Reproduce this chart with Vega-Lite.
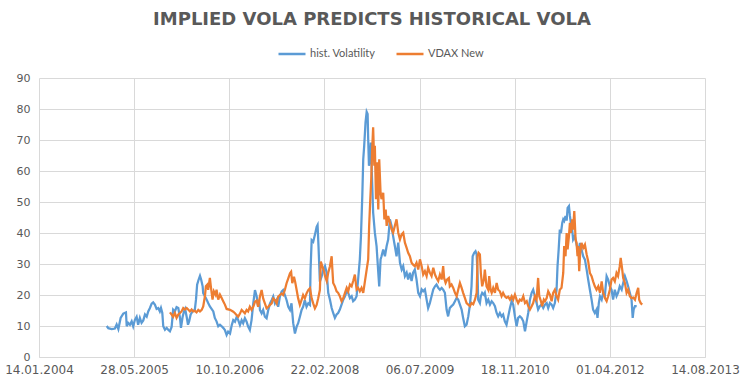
{
"$schema": "https://vega.github.io/schema/vega-lite/v6.json",
"width": 666, "height": 279,
"autosize": {"type": "none"},
"padding": {"left": 39, "top": 78, "right": 38, "bottom": 30},
"background": "white",
"title": {"text": "IMPLIED VOLA PREDICTS HISTORICAL VOLA", "font": "DejaVu Sans", "fontSize": 18, "fontWeight": "bold", "color": "#595959", "anchor": "middle", "offset": 10},
"data": {"values": [
{"d":"2005-01-04","s":"hist. Volatility","v":10},{"d":"2005-01-12","s":"hist. Volatility","v":9.3},{"d":"2005-01-30","s":"hist. Volatility","v":9},{"d":"2005-02-16","s":"hist. Volatility","v":9.2},{"d":"2005-02-25","s":"hist. Volatility","v":10.5},{"d":"2005-03-06","s":"hist. Volatility","v":9},{"d":"2005-03-18","s":"hist. Volatility","v":12.6},{"d":"2005-04-01","s":"hist. Volatility","v":14},{"d":"2005-04-15","s":"hist. Volatility","v":14.4},{"d":"2005-04-19","s":"hist. Volatility","v":9.9},{"d":"2005-04-27","s":"hist. Volatility","v":11},{"d":"2005-05-06","s":"hist. Volatility","v":10.4},{"d":"2005-05-15","s":"hist. Volatility","v":11.5},{"d":"2005-05-23","s":"hist. Volatility","v":9.9},{"d":"2005-06-01","s":"hist. Volatility","v":12},{"d":"2005-06-10","s":"hist. Volatility","v":13},{"d":"2005-06-18","s":"hist. Volatility","v":10.4},{"d":"2005-06-27","s":"hist. Volatility","v":12.6},{"d":"2005-07-06","s":"hist. Volatility","v":11},{"d":"2005-07-15","s":"hist. Volatility","v":11.8},{"d":"2005-07-24","s":"hist. Volatility","v":13.7},{"d":"2005-08-02","s":"hist. Volatility","v":13},{"d":"2005-08-10","s":"hist. Volatility","v":14.7},{"d":"2005-08-19","s":"hist. Volatility","v":15.8},{"d":"2005-08-28","s":"hist. Volatility","v":17.2},{"d":"2005-09-05","s":"hist. Volatility","v":17.6},{"d":"2005-09-14","s":"hist. Volatility","v":16.9},{"d":"2005-09-23","s":"hist. Volatility","v":15.5},{"d":"2005-10-02","s":"hist. Volatility","v":15.8},{"d":"2005-10-10","s":"hist. Volatility","v":14.7},{"d":"2005-10-16","s":"hist. Volatility","v":15.8},{"d":"2005-10-23","s":"hist. Volatility","v":14.2},{"d":"2005-10-28","s":"hist. Volatility","v":9.9},{"d":"2005-11-06","s":"hist. Volatility","v":8.8},{"d":"2005-11-15","s":"hist. Volatility","v":9.4},{"d":"2005-11-23","s":"hist. Volatility","v":8.8},{"d":"2005-12-02","s":"hist. Volatility","v":8.3},{"d":"2005-12-11","s":"hist. Volatility","v":9.7},{"d":"2005-12-19","s":"hist. Volatility","v":15.3},{"d":"2005-12-28","s":"hist. Volatility","v":14.7},{"d":"2006-01-06","s":"hist. Volatility","v":16.1},{"d":"2006-01-15","s":"hist. Volatility","v":15.8},{"d":"2006-01-24","s":"hist. Volatility","v":12.6},{"d":"2006-01-29","s":"hist. Volatility","v":9.4},{"d":"2006-02-07","s":"hist. Volatility","v":13},{"d":"2006-02-14","s":"hist. Volatility","v":14.7},{"d":"2006-02-20","s":"hist. Volatility","v":15.5},{"d":"2006-02-28","s":"hist. Volatility","v":13},{"d":"2006-03-07","s":"hist. Volatility","v":10.4},{"d":"2006-03-13","s":"hist. Volatility","v":11.5},{"d":"2006-03-21","s":"hist. Volatility","v":13.7},{"d":"2006-03-31","s":"hist. Volatility","v":14.7},{"d":"2006-04-12","s":"hist. Volatility","v":15.3},{"d":"2006-04-18","s":"hist. Volatility","v":18.5},{"d":"2006-04-24","s":"hist. Volatility","v":23.3},{"d":"2006-05-02","s":"hist. Volatility","v":25},{"d":"2006-05-09","s":"hist. Volatility","v":26.2},{"d":"2006-05-15","s":"hist. Volatility","v":25},{"d":"2006-05-23","s":"hist. Volatility","v":22.8},{"d":"2006-05-26","s":"hist. Volatility","v":20.6},{"d":"2006-06-04","s":"hist. Volatility","v":19.6},{"d":"2006-06-13","s":"hist. Volatility","v":18.5},{"d":"2006-06-21","s":"hist. Volatility","v":17.4},{"d":"2006-06-30","s":"hist. Volatility","v":16.3},{"d":"2006-07-18","s":"hist. Volatility","v":14.7},{"d":"2006-07-26","s":"hist. Volatility","v":12.6},{"d":"2006-08-04","s":"hist. Volatility","v":11.5},{"d":"2006-08-13","s":"hist. Volatility","v":9.9},{"d":"2006-08-22","s":"hist. Volatility","v":10.4},{"d":"2006-08-31","s":"hist. Volatility","v":9.9},{"d":"2006-09-08","s":"hist. Volatility","v":9.4},{"d":"2006-09-17","s":"hist. Volatility","v":8.7},{"d":"2006-09-26","s":"hist. Volatility","v":7.1},{"d":"2006-10-04","s":"hist. Volatility","v":8.2},{"d":"2006-10-14","s":"hist. Volatility","v":7.6},{"d":"2006-10-23","s":"hist. Volatility","v":10.3},{"d":"2006-10-31","s":"hist. Volatility","v":11.9},{"d":"2006-11-09","s":"hist. Volatility","v":11.4},{"d":"2006-11-18","s":"hist. Volatility","v":13},{"d":"2006-11-26","s":"hist. Volatility","v":11.9},{"d":"2006-12-05","s":"hist. Volatility","v":10.3},{"d":"2006-12-14","s":"hist. Volatility","v":11.9},{"d":"2006-12-22","s":"hist. Volatility","v":10.9},{"d":"2006-12-31","s":"hist. Volatility","v":12.5},{"d":"2007-01-09","s":"hist. Volatility","v":11.4},{"d":"2007-01-17","s":"hist. Volatility","v":9.8},{"d":"2007-01-26","s":"hist. Volatility","v":8.7},{"d":"2007-02-04","s":"hist. Volatility","v":11.9},{"d":"2007-02-13","s":"hist. Volatility","v":17.3},{"d":"2007-02-22","s":"hist. Volatility","v":21.6},{"d":"2007-03-03","s":"hist. Volatility","v":19.5},{"d":"2007-03-08","s":"hist. Volatility","v":17.3},{"d":"2007-03-16","s":"hist. Volatility","v":18.4},{"d":"2007-03-20","s":"hist. Volatility","v":15.2},{"d":"2007-03-29","s":"hist. Volatility","v":14.1},{"d":"2007-04-06","s":"hist. Volatility","v":15.2},{"d":"2007-04-15","s":"hist. Volatility","v":13},{"d":"2007-04-24","s":"hist. Volatility","v":12.5},{"d":"2007-05-03","s":"hist. Volatility","v":15.2},{"d":"2007-05-12","s":"hist. Volatility","v":17.3},{"d":"2007-05-21","s":"hist. Volatility","v":18.4},{"d":"2007-05-29","s":"hist. Volatility","v":19.5},{"d":"2007-06-07","s":"hist. Volatility","v":17.3},{"d":"2007-06-16","s":"hist. Volatility","v":18.4},{"d":"2007-06-24","s":"hist. Volatility","v":16.2},{"d":"2007-07-03","s":"hist. Volatility","v":19.5},{"d":"2007-07-12","s":"hist. Volatility","v":21.1},{"d":"2007-07-20","s":"hist. Volatility","v":21.6},{"d":"2007-07-29","s":"hist. Volatility","v":20},{"d":"2007-08-07","s":"hist. Volatility","v":18.4},{"d":"2007-08-16","s":"hist. Volatility","v":16.2},{"d":"2007-08-25","s":"hist. Volatility","v":15.2},{"d":"2007-09-02","s":"hist. Volatility","v":17.3},{"d":"2007-09-11","s":"hist. Volatility","v":10.9},{"d":"2007-09-20","s":"hist. Volatility","v":7.6},{"d":"2007-09-29","s":"hist. Volatility","v":9.8},{"d":"2007-10-07","s":"hist. Volatility","v":10.9},{"d":"2007-10-16","s":"hist. Volatility","v":13},{"d":"2007-10-25","s":"hist. Volatility","v":15.2},{"d":"2007-11-02","s":"hist. Volatility","v":16.2},{"d":"2007-11-11","s":"hist. Volatility","v":18.4},{"d":"2007-11-20","s":"hist. Volatility","v":16.2},{"d":"2007-11-29","s":"hist. Volatility","v":17.3},{"d":"2007-12-08","s":"hist. Volatility","v":16.8},{"d":"2007-12-11","s":"hist. Volatility","v":28.1},{"d":"2007-12-17","s":"hist. Volatility","v":37.7},{"d":"2007-12-25","s":"hist. Volatility","v":37.2},{"d":"2008-01-03","s":"hist. Volatility","v":39.4},{"d":"2008-01-12","s":"hist. Volatility","v":42},{"d":"2008-01-17","s":"hist. Volatility","v":42.6},{"d":"2008-01-22","s":"hist. Volatility","v":35.6},{"d":"2008-01-29","s":"hist. Volatility","v":24.3},{"d":"2008-02-07","s":"hist. Volatility","v":25.9},{"d":"2008-02-16","s":"hist. Volatility","v":28.1},{"d":"2008-02-25","s":"hist. Volatility","v":29.3},{"d":"2008-03-05","s":"hist. Volatility","v":27.2},{"d":"2008-03-13","s":"hist. Volatility","v":20.7},{"d":"2008-03-22","s":"hist. Volatility","v":18.5},{"d":"2008-03-31","s":"hist. Volatility","v":15.8},{"d":"2008-04-08","s":"hist. Volatility","v":14.2},{"d":"2008-04-17","s":"hist. Volatility","v":12.6},{"d":"2008-04-26","s":"hist. Volatility","v":13.7},{"d":"2008-05-04","s":"hist. Volatility","v":14.2},{"d":"2008-05-13","s":"hist. Volatility","v":15.3},{"d":"2008-05-22","s":"hist. Volatility","v":16.9},{"d":"2008-05-31","s":"hist. Volatility","v":18.5},{"d":"2008-06-09","s":"hist. Volatility","v":19.6},{"d":"2008-06-18","s":"hist. Volatility","v":21.2},{"d":"2008-06-26","s":"hist. Volatility","v":20.7},{"d":"2008-07-05","s":"hist. Volatility","v":19},{"d":"2008-07-14","s":"hist. Volatility","v":19.6},{"d":"2008-07-22","s":"hist. Volatility","v":18},{"d":"2008-07-31","s":"hist. Volatility","v":18.5},{"d":"2008-08-09","s":"hist. Volatility","v":19.6},{"d":"2008-08-17","s":"hist. Volatility","v":25},{"d":"2008-08-26","s":"hist. Volatility","v":31.5},{"d":"2008-09-01","s":"hist. Volatility","v":39},{"d":"2008-09-08","s":"hist. Volatility","v":52},{"d":"2008-09-13","s":"hist. Volatility","v":63.8},{"d":"2008-09-18","s":"hist. Volatility","v":68.1},{"d":"2008-09-25","s":"hist. Volatility","v":75.7},{"d":"2008-10-01","s":"hist. Volatility","v":79.1},{"d":"2008-10-06","s":"hist. Volatility","v":78.4},{"d":"2008-10-09","s":"hist. Volatility","v":70.3},{"d":"2008-10-13","s":"hist. Volatility","v":61.7},{"d":"2008-10-18","s":"hist. Volatility","v":63.8},{"d":"2008-10-23","s":"hist. Volatility","v":69.2},{"d":"2008-10-28","s":"hist. Volatility","v":59.5},{"d":"2008-11-04","s":"hist. Volatility","v":46.6},{"d":"2008-11-13","s":"hist. Volatility","v":40.1},{"d":"2008-11-22","s":"hist. Volatility","v":35.8},{"d":"2008-12-01","s":"hist. Volatility","v":27.2},{"d":"2008-12-06","s":"hist. Volatility","v":22.8},{"d":"2008-12-13","s":"hist. Volatility","v":31.5},{"d":"2008-12-18","s":"hist. Volatility","v":32.5},{"d":"2008-12-27","s":"hist. Volatility","v":34.7},{"d":"2009-01-05","s":"hist. Volatility","v":32.5},{"d":"2009-01-14","s":"hist. Volatility","v":35.8},{"d":"2009-01-22","s":"hist. Volatility","v":37.9},{"d":"2009-01-31","s":"hist. Volatility","v":44.4},{"d":"2009-02-09","s":"hist. Volatility","v":42.3},{"d":"2009-02-17","s":"hist. Volatility","v":39},{"d":"2009-02-26","s":"hist. Volatility","v":35.8},{"d":"2009-03-07","s":"hist. Volatility","v":32.5},{"d":"2009-03-16","s":"hist. Volatility","v":36.9},{"d":"2009-03-25","s":"hist. Volatility","v":30.4},{"d":"2009-04-03","s":"hist. Volatility","v":28.2},{"d":"2009-04-11","s":"hist. Volatility","v":29.3},{"d":"2009-04-20","s":"hist. Volatility","v":26.1},{"d":"2009-04-29","s":"hist. Volatility","v":27.2},{"d":"2009-05-07","s":"hist. Volatility","v":25},{"d":"2009-05-16","s":"hist. Volatility","v":27.2},{"d":"2009-05-25","s":"hist. Volatility","v":24.5},{"d":"2009-06-02","s":"hist. Volatility","v":27.2},{"d":"2009-06-11","s":"hist. Volatility","v":28.2},{"d":"2009-06-20","s":"hist. Volatility","v":25},{"d":"2009-06-29","s":"hist. Volatility","v":20.7},{"d":"2009-07-08","s":"hist. Volatility","v":19.6},{"d":"2009-07-17","s":"hist. Volatility","v":21.8},{"d":"2009-07-25","s":"hist. Volatility","v":21.2},{"d":"2009-08-03","s":"hist. Volatility","v":21.8},{"d":"2009-08-12","s":"hist. Volatility","v":18.5},{"d":"2009-08-20","s":"hist. Volatility","v":15.8},{"d":"2009-08-29","s":"hist. Volatility","v":17.4},{"d":"2009-09-07","s":"hist. Volatility","v":19.6},{"d":"2009-09-16","s":"hist. Volatility","v":21.8},{"d":"2009-09-25","s":"hist. Volatility","v":22.8},{"d":"2009-10-03","s":"hist. Volatility","v":23.4},{"d":"2009-10-12","s":"hist. Volatility","v":22.3},{"d":"2009-10-21","s":"hist. Volatility","v":21.7},{"d":"2009-10-30","s":"hist. Volatility","v":22.3},{"d":"2009-11-07","s":"hist. Volatility","v":21.7},{"d":"2009-11-16","s":"hist. Volatility","v":20.7},{"d":"2009-11-25","s":"hist. Volatility","v":15.3},{"d":"2009-12-03","s":"hist. Volatility","v":13.1},{"d":"2009-12-12","s":"hist. Volatility","v":15.8},{"d":"2009-12-21","s":"hist. Volatility","v":16.4},{"d":"2009-12-30","s":"hist. Volatility","v":16.9},{"d":"2010-01-08","s":"hist. Volatility","v":18},{"d":"2010-01-17","s":"hist. Volatility","v":19.1},{"d":"2010-01-25","s":"hist. Volatility","v":18.5},{"d":"2010-02-03","s":"hist. Volatility","v":16.9},{"d":"2010-02-12","s":"hist. Volatility","v":15.3},{"d":"2010-02-20","s":"hist. Volatility","v":12.6},{"d":"2010-03-01","s":"hist. Volatility","v":9.9},{"d":"2010-03-10","s":"hist. Volatility","v":10.4},{"d":"2010-03-19","s":"hist. Volatility","v":13.1},{"d":"2010-03-28","s":"hist. Volatility","v":16.9},{"d":"2010-04-05","s":"hist. Volatility","v":22.8},{"d":"2010-04-11","s":"hist. Volatility","v":32.5},{"d":"2010-04-19","s":"hist. Volatility","v":33.6},{"d":"2010-04-26","s":"hist. Volatility","v":34.1},{"d":"2010-05-02","s":"hist. Volatility","v":33.1},{"d":"2010-05-07","s":"hist. Volatility","v":26.1},{"d":"2010-05-10","s":"hist. Volatility","v":18.5},{"d":"2010-05-19","s":"hist. Volatility","v":17.4},{"d":"2010-05-24","s":"hist. Volatility","v":19.6},{"d":"2010-05-31","s":"hist. Volatility","v":20.7},{"d":"2010-06-09","s":"hist. Volatility","v":20.1},{"d":"2010-06-14","s":"hist. Volatility","v":20.7},{"d":"2010-06-23","s":"hist. Volatility","v":17.4},{"d":"2010-07-02","s":"hist. Volatility","v":18.5},{"d":"2010-07-11","s":"hist. Volatility","v":16.9},{"d":"2010-07-20","s":"hist. Volatility","v":18},{"d":"2010-07-28","s":"hist. Volatility","v":17.4},{"d":"2010-08-06","s":"hist. Volatility","v":16.4},{"d":"2010-08-15","s":"hist. Volatility","v":14.2},{"d":"2010-08-23","s":"hist. Volatility","v":13.1},{"d":"2010-09-01","s":"hist. Volatility","v":14.2},{"d":"2010-09-10","s":"hist. Volatility","v":13.1},{"d":"2010-09-18","s":"hist. Volatility","v":13.7},{"d":"2010-09-27","s":"hist. Volatility","v":11.5},{"d":"2010-10-06","s":"hist. Volatility","v":10.4},{"d":"2010-10-15","s":"hist. Volatility","v":13.1},{"d":"2010-10-24","s":"hist. Volatility","v":15.8},{"d":"2010-11-02","s":"hist. Volatility","v":18},{"d":"2010-11-10","s":"hist. Volatility","v":16.9},{"d":"2010-11-19","s":"hist. Volatility","v":13.1},{"d":"2010-11-28","s":"hist. Volatility","v":9.9},{"d":"2010-12-06","s":"hist. Volatility","v":12.6},{"d":"2010-12-15","s":"hist. Volatility","v":13.1},{"d":"2010-12-24","s":"hist. Volatility","v":12.6},{"d":"2011-01-02","s":"hist. Volatility","v":11.5},{"d":"2011-01-11","s":"hist. Volatility","v":8.3},{"d":"2011-01-20","s":"hist. Volatility","v":11.5},{"d":"2011-01-28","s":"hist. Volatility","v":14.2},{"d":"2011-02-06","s":"hist. Volatility","v":18.5},{"d":"2011-02-15","s":"hist. Volatility","v":20.7},{"d":"2011-02-23","s":"hist. Volatility","v":21.7},{"d":"2011-03-04","s":"hist. Volatility","v":19.6},{"d":"2011-03-13","s":"hist. Volatility","v":17.4},{"d":"2011-03-21","s":"hist. Volatility","v":15.3},{"d":"2011-03-30","s":"hist. Volatility","v":16.4},{"d":"2011-04-08","s":"hist. Volatility","v":16.9},{"d":"2011-04-17","s":"hist. Volatility","v":15.8},{"d":"2011-04-26","s":"hist. Volatility","v":16.9},{"d":"2011-05-05","s":"hist. Volatility","v":17.4},{"d":"2011-05-13","s":"hist. Volatility","v":15.8},{"d":"2011-05-22","s":"hist. Volatility","v":17.4},{"d":"2011-05-31","s":"hist. Volatility","v":16.9},{"d":"2011-06-08","s":"hist. Volatility","v":15.8},{"d":"2011-06-17","s":"hist. Volatility","v":17.4},{"d":"2011-06-26","s":"hist. Volatility","v":21.7},{"d":"2011-07-01","s":"hist. Volatility","v":29.3},{"d":"2011-07-07","s":"hist. Volatility","v":34.7},{"d":"2011-07-13","s":"hist. Volatility","v":41.1},{"d":"2011-07-19","s":"hist. Volatility","v":40},{"d":"2011-07-26","s":"hist. Volatility","v":43.3},{"d":"2011-07-31","s":"hist. Volatility","v":44.4},{"d":"2011-08-05","s":"hist. Volatility","v":43.9},{"d":"2011-08-12","s":"hist. Volatility","v":45.5},{"d":"2011-08-18","s":"hist. Volatility","v":44},{"d":"2011-08-23","s":"hist. Volatility","v":48.1},{"d":"2011-08-30","s":"hist. Volatility","v":48.7},{"d":"2011-09-04","s":"hist. Volatility","v":45.5},{"d":"2011-09-09","s":"hist. Volatility","v":43.3},{"d":"2011-09-16","s":"hist. Volatility","v":41.1},{"d":"2011-09-21","s":"hist. Volatility","v":37.9},{"d":"2011-09-30","s":"hist. Volatility","v":39},{"d":"2011-10-09","s":"hist. Volatility","v":36.3},{"d":"2011-10-18","s":"hist. Volatility","v":34.1},{"d":"2011-10-27","s":"hist. Volatility","v":36.8},{"d":"2011-11-04","s":"hist. Volatility","v":34.7},{"d":"2011-11-13","s":"hist. Volatility","v":32.5},{"d":"2011-11-22","s":"hist. Volatility","v":31.4},{"d":"2011-12-01","s":"hist. Volatility","v":28.2},{"d":"2011-12-09","s":"hist. Volatility","v":25},{"d":"2011-12-18","s":"hist. Volatility","v":21.7},{"d":"2011-12-27","s":"hist. Volatility","v":18.5},{"d":"2012-01-04","s":"hist. Volatility","v":15.3},{"d":"2012-01-13","s":"hist. Volatility","v":14.2},{"d":"2012-01-22","s":"hist. Volatility","v":15.3},{"d":"2012-01-27","s":"hist. Volatility","v":12.6},{"d":"2012-02-03","s":"hist. Volatility","v":17.4},{"d":"2012-02-09","s":"hist. Volatility","v":19.6},{"d":"2012-02-18","s":"hist. Volatility","v":18.5},{"d":"2012-02-26","s":"hist. Volatility","v":20.7},{"d":"2012-03-06","s":"hist. Volatility","v":20},{"d":"2012-03-15","s":"hist. Volatility","v":26.1},{"d":"2012-03-23","s":"hist. Volatility","v":25},{"d":"2012-04-01","s":"hist. Volatility","v":22.8},{"d":"2012-04-10","s":"hist. Volatility","v":21.7},{"d":"2012-04-18","s":"hist. Volatility","v":18.5},{"d":"2012-04-27","s":"hist. Volatility","v":21.7},{"d":"2012-05-06","s":"hist. Volatility","v":19.6},{"d":"2012-05-14","s":"hist. Volatility","v":20.7},{"d":"2012-05-23","s":"hist. Volatility","v":22.8},{"d":"2012-06-02","s":"hist. Volatility","v":21.7},{"d":"2012-06-10","s":"hist. Volatility","v":23.9},{"d":"2012-06-19","s":"hist. Volatility","v":26.1},{"d":"2012-06-28","s":"hist. Volatility","v":24.5},{"d":"2012-07-06","s":"hist. Volatility","v":22.8},{"d":"2012-07-15","s":"hist. Volatility","v":20.7},{"d":"2012-07-24","s":"hist. Volatility","v":18.5},{"d":"2012-07-30","s":"hist. Volatility","v":12.6},{"d":"2012-08-04","s":"hist. Volatility","v":15.3},{"d":"2012-08-11","s":"hist. Volatility","v":16.4},{"d":"2012-08-20","s":"hist. Volatility","v":16.4},
{"d":"2005-12-02","s":"VDAX New","v":14.4},{"d":"2005-12-11","s":"VDAX New","v":13.7},{"d":"2005-12-19","s":"VDAX New","v":13},{"d":"2005-12-28","s":"VDAX New","v":14.2},{"d":"2006-01-06","s":"VDAX New","v":12.6},{"d":"2006-01-15","s":"VDAX New","v":13.7},{"d":"2006-01-24","s":"VDAX New","v":14.2},{"d":"2006-02-01","s":"VDAX New","v":14.7},{"d":"2006-02-10","s":"VDAX New","v":15.8},{"d":"2006-02-19","s":"VDAX New","v":15.3},{"d":"2006-02-28","s":"VDAX New","v":15.8},{"d":"2006-03-08","s":"VDAX New","v":15.3},{"d":"2006-03-17","s":"VDAX New","v":14.7},{"d":"2006-03-26","s":"VDAX New","v":15.3},{"d":"2006-04-03","s":"VDAX New","v":14.7},{"d":"2006-04-12","s":"VDAX New","v":14.9},{"d":"2006-04-21","s":"VDAX New","v":14.4},{"d":"2006-04-30","s":"VDAX New","v":15.2},{"d":"2006-05-09","s":"VDAX New","v":14.7},{"d":"2006-05-18","s":"VDAX New","v":15.2},{"d":"2006-05-26","s":"VDAX New","v":16.3},{"d":"2006-06-04","s":"VDAX New","v":19.6},{"d":"2006-06-09","s":"VDAX New","v":22.8},{"d":"2006-06-16","s":"VDAX New","v":23.3},{"d":"2006-06-21","s":"VDAX New","v":21.7},{"d":"2006-06-30","s":"VDAX New","v":25.5},{"d":"2006-07-05","s":"VDAX New","v":22.8},{"d":"2006-07-14","s":"VDAX New","v":18.5},{"d":"2006-07-21","s":"VDAX New","v":21.2},{"d":"2006-07-30","s":"VDAX New","v":20.1},{"d":"2006-08-04","s":"VDAX New","v":21.7},{"d":"2006-08-13","s":"VDAX New","v":18.5},{"d":"2006-08-22","s":"VDAX New","v":20.1},{"d":"2006-08-31","s":"VDAX New","v":19},{"d":"2006-09-08","s":"VDAX New","v":18},{"d":"2006-09-17","s":"VDAX New","v":16.9},{"d":"2006-09-26","s":"VDAX New","v":15.5},{"d":"2006-10-14","s":"VDAX New","v":15.2},{"d":"2006-10-31","s":"VDAX New","v":14.6},{"d":"2006-11-09","s":"VDAX New","v":14.1},{"d":"2006-11-18","s":"VDAX New","v":13.5},{"d":"2006-11-26","s":"VDAX New","v":13},{"d":"2006-12-05","s":"VDAX New","v":14},{"d":"2006-12-14","s":"VDAX New","v":15.2},{"d":"2006-12-22","s":"VDAX New","v":14.7},{"d":"2006-12-31","s":"VDAX New","v":14.1},{"d":"2007-01-09","s":"VDAX New","v":15.2},{"d":"2007-01-17","s":"VDAX New","v":14.7},{"d":"2007-01-26","s":"VDAX New","v":16.2},{"d":"2007-02-04","s":"VDAX New","v":15.2},{"d":"2007-02-13","s":"VDAX New","v":16.2},{"d":"2007-02-22","s":"VDAX New","v":17.8},{"d":"2007-03-03","s":"VDAX New","v":18.2},{"d":"2007-03-11","s":"VDAX New","v":16.2},{"d":"2007-03-20","s":"VDAX New","v":19.5},{"d":"2007-03-29","s":"VDAX New","v":21.6},{"d":"2007-04-06","s":"VDAX New","v":18.9},{"d":"2007-04-15","s":"VDAX New","v":17.3},{"d":"2007-04-24","s":"VDAX New","v":15.7},{"d":"2007-05-03","s":"VDAX New","v":16.2},{"d":"2007-05-12","s":"VDAX New","v":16.8},{"d":"2007-05-21","s":"VDAX New","v":17.3},{"d":"2007-05-29","s":"VDAX New","v":18.9},{"d":"2007-06-07","s":"VDAX New","v":18.4},{"d":"2007-06-16","s":"VDAX New","v":17.3},{"d":"2007-06-24","s":"VDAX New","v":19.5},{"d":"2007-07-03","s":"VDAX New","v":20},{"d":"2007-07-12","s":"VDAX New","v":20.5},{"d":"2007-07-20","s":"VDAX New","v":20},{"d":"2007-07-29","s":"VDAX New","v":21.6},{"d":"2007-08-07","s":"VDAX New","v":23.8},{"d":"2007-08-16","s":"VDAX New","v":25.4},{"d":"2007-08-25","s":"VDAX New","v":27},{"d":"2007-08-31","s":"VDAX New","v":27.5},{"d":"2007-09-06","s":"VDAX New","v":23.8},{"d":"2007-09-15","s":"VDAX New","v":25.9},{"d":"2007-09-21","s":"VDAX New","v":24.3},{"d":"2007-09-29","s":"VDAX New","v":21.6},{"d":"2007-10-07","s":"VDAX New","v":18.9},{"d":"2007-10-16","s":"VDAX New","v":16.8},{"d":"2007-10-25","s":"VDAX New","v":18.4},{"d":"2007-11-02","s":"VDAX New","v":20},{"d":"2007-11-11","s":"VDAX New","v":18.9},{"d":"2007-11-20","s":"VDAX New","v":20.5},{"d":"2007-11-29","s":"VDAX New","v":21.6},{"d":"2007-12-08","s":"VDAX New","v":22.2},{"d":"2007-12-17","s":"VDAX New","v":18.9},{"d":"2007-12-25","s":"VDAX New","v":17.3},{"d":"2008-01-03","s":"VDAX New","v":15.7},{"d":"2008-01-12","s":"VDAX New","v":16.8},{"d":"2008-01-20","s":"VDAX New","v":18.9},{"d":"2008-01-29","s":"VDAX New","v":21.6},{"d":"2008-02-03","s":"VDAX New","v":30.8},{"d":"2008-02-12","s":"VDAX New","v":29.1},{"d":"2008-02-21","s":"VDAX New","v":27.5},{"d":"2008-02-25","s":"VDAX New","v":26.1},{"d":"2008-03-05","s":"VDAX New","v":24.5},{"d":"2008-03-13","s":"VDAX New","v":27.2},{"d":"2008-03-22","s":"VDAX New","v":29.3},{"d":"2008-03-31","s":"VDAX New","v":32.5},{"d":"2008-04-03","s":"VDAX New","v":29},{"d":"2008-04-08","s":"VDAX New","v":23.9},{"d":"2008-04-17","s":"VDAX New","v":22.8},{"d":"2008-04-26","s":"VDAX New","v":21.2},{"d":"2008-05-04","s":"VDAX New","v":20.7},{"d":"2008-05-13","s":"VDAX New","v":19.6},{"d":"2008-05-22","s":"VDAX New","v":18},{"d":"2008-05-31","s":"VDAX New","v":19},{"d":"2008-06-09","s":"VDAX New","v":20.7},{"d":"2008-06-18","s":"VDAX New","v":22.3},{"d":"2008-06-26","s":"VDAX New","v":21.2},{"d":"2008-07-05","s":"VDAX New","v":23.4},{"d":"2008-07-14","s":"VDAX New","v":22.8},{"d":"2008-07-22","s":"VDAX New","v":24.5},{"d":"2008-07-31","s":"VDAX New","v":26.6},{"d":"2008-08-09","s":"VDAX New","v":21.8},{"d":"2008-08-17","s":"VDAX New","v":22.3},{"d":"2008-08-26","s":"VDAX New","v":21.2},{"d":"2008-09-04","s":"VDAX New","v":22.3},{"d":"2008-09-13","s":"VDAX New","v":20.7},{"d":"2008-09-22","s":"VDAX New","v":24.5},{"d":"2008-10-01","s":"VDAX New","v":28.2},{"d":"2008-10-09","s":"VDAX New","v":31.5},{"d":"2008-10-14","s":"VDAX New","v":42.3},{"d":"2008-10-20","s":"VDAX New","v":50.9},{"d":"2008-10-25","s":"VDAX New","v":57.4},{"d":"2008-10-30","s":"VDAX New","v":67.1},{"d":"2008-11-04","s":"VDAX New","v":74.1},{"d":"2008-11-10","s":"VDAX New","v":61.7},{"d":"2008-11-13","s":"VDAX New","v":68.1},{"d":"2008-11-19","s":"VDAX New","v":50.9},{"d":"2008-11-24","s":"VDAX New","v":62.8},{"d":"2008-12-01","s":"VDAX New","v":47.6},{"d":"2008-12-06","s":"VDAX New","v":63.8},{"d":"2008-12-13","s":"VDAX New","v":53},{"d":"2008-12-18","s":"VDAX New","v":50.9},{"d":"2008-12-27","s":"VDAX New","v":53},{"d":"2009-01-02","s":"VDAX New","v":44.4},{"d":"2009-01-09","s":"VDAX New","v":47.6},{"d":"2009-01-14","s":"VDAX New","v":42.3},{"d":"2009-01-22","s":"VDAX New","v":45.5},{"d":"2009-01-31","s":"VDAX New","v":43.3},{"d":"2009-02-09","s":"VDAX New","v":41.2},{"d":"2009-02-17","s":"VDAX New","v":40.1},{"d":"2009-02-26","s":"VDAX New","v":42.3},{"d":"2009-03-07","s":"VDAX New","v":44.4},{"d":"2009-03-16","s":"VDAX New","v":40.1},{"d":"2009-03-25","s":"VDAX New","v":37.9},{"d":"2009-04-03","s":"VDAX New","v":39.6},{"d":"2009-04-11","s":"VDAX New","v":40.1},{"d":"2009-04-20","s":"VDAX New","v":36.9},{"d":"2009-04-29","s":"VDAX New","v":35.2},{"d":"2009-05-07","s":"VDAX New","v":33.6},{"d":"2009-05-16","s":"VDAX New","v":32.5},{"d":"2009-05-25","s":"VDAX New","v":30.4},{"d":"2009-06-02","s":"VDAX New","v":29.8},{"d":"2009-06-11","s":"VDAX New","v":29.3},{"d":"2009-06-20","s":"VDAX New","v":30.4},{"d":"2009-06-29","s":"VDAX New","v":28.2},{"d":"2009-07-08","s":"VDAX New","v":31.5},{"d":"2009-07-17","s":"VDAX New","v":29.3},{"d":"2009-07-25","s":"VDAX New","v":26.6},{"d":"2009-08-03","s":"VDAX New","v":27.7},{"d":"2009-08-12","s":"VDAX New","v":26.1},{"d":"2009-08-20","s":"VDAX New","v":28.8},{"d":"2009-08-29","s":"VDAX New","v":27.2},{"d":"2009-09-07","s":"VDAX New","v":26.1},{"d":"2009-09-16","s":"VDAX New","v":28.8},{"d":"2009-09-25","s":"VDAX New","v":26.6},{"d":"2009-10-03","s":"VDAX New","v":25.5},{"d":"2009-10-12","s":"VDAX New","v":24.5},{"d":"2009-10-21","s":"VDAX New","v":26.6},{"d":"2009-10-30","s":"VDAX New","v":25},{"d":"2009-11-07","s":"VDAX New","v":29.3},{"d":"2009-11-12","s":"VDAX New","v":25.5},{"d":"2009-11-20","s":"VDAX New","v":23.9},{"d":"2009-11-28","s":"VDAX New","v":25},{"d":"2009-12-07","s":"VDAX New","v":25.5},{"d":"2009-12-12","s":"VDAX New","v":22.8},{"d":"2009-12-21","s":"VDAX New","v":23.4},{"d":"2009-12-30","s":"VDAX New","v":22.3},{"d":"2010-01-08","s":"VDAX New","v":20.7},{"d":"2010-01-17","s":"VDAX New","v":19.6},{"d":"2010-01-25","s":"VDAX New","v":21.7},{"d":"2010-02-03","s":"VDAX New","v":23.9},{"d":"2010-02-12","s":"VDAX New","v":22.3},{"d":"2010-02-20","s":"VDAX New","v":20.7},{"d":"2010-03-01","s":"VDAX New","v":19.1},{"d":"2010-03-10","s":"VDAX New","v":17.4},{"d":"2010-03-19","s":"VDAX New","v":16.9},{"d":"2010-03-28","s":"VDAX New","v":16.4},{"d":"2010-04-05","s":"VDAX New","v":17.4},{"d":"2010-04-14","s":"VDAX New","v":17},{"d":"2010-04-23","s":"VDAX New","v":18.5},{"d":"2010-05-02","s":"VDAX New","v":20.7},{"d":"2010-05-07","s":"VDAX New","v":32.5},{"d":"2010-05-12","s":"VDAX New","v":33.6},{"d":"2010-05-19","s":"VDAX New","v":33.1},{"d":"2010-05-24","s":"VDAX New","v":27.1},{"d":"2010-05-31","s":"VDAX New","v":22.8},{"d":"2010-06-09","s":"VDAX New","v":25},{"d":"2010-06-14","s":"VDAX New","v":28.2},{"d":"2010-06-23","s":"VDAX New","v":22.8},{"d":"2010-07-02","s":"VDAX New","v":21.7},{"d":"2010-07-07","s":"VDAX New","v":26.1},{"d":"2010-07-14","s":"VDAX New","v":21.7},{"d":"2010-07-20","s":"VDAX New","v":20.7},{"d":"2010-07-28","s":"VDAX New","v":22.3},{"d":"2010-08-06","s":"VDAX New","v":20.7},{"d":"2010-08-15","s":"VDAX New","v":23.9},{"d":"2010-08-23","s":"VDAX New","v":21.7},{"d":"2010-09-01","s":"VDAX New","v":21.2},{"d":"2010-09-10","s":"VDAX New","v":19.6},{"d":"2010-09-18","s":"VDAX New","v":20.7},{"d":"2010-09-27","s":"VDAX New","v":19.6},{"d":"2010-10-06","s":"VDAX New","v":19.1},{"d":"2010-10-15","s":"VDAX New","v":19.4},{"d":"2010-10-24","s":"VDAX New","v":18.5},{"d":"2010-11-02","s":"VDAX New","v":19.6},{"d":"2010-11-10","s":"VDAX New","v":18.5},{"d":"2010-11-19","s":"VDAX New","v":20.1},{"d":"2010-11-28","s":"VDAX New","v":18.5},{"d":"2010-12-06","s":"VDAX New","v":17.4},{"d":"2010-12-15","s":"VDAX New","v":18.5},{"d":"2010-12-24","s":"VDAX New","v":18.2},{"d":"2011-01-02","s":"VDAX New","v":19.6},{"d":"2011-01-11","s":"VDAX New","v":17.4},{"d":"2011-01-20","s":"VDAX New","v":18},{"d":"2011-01-28","s":"VDAX New","v":16.4},{"d":"2011-02-06","s":"VDAX New","v":15.3},{"d":"2011-02-15","s":"VDAX New","v":16.4},{"d":"2011-02-23","s":"VDAX New","v":17.4},{"d":"2011-03-04","s":"VDAX New","v":19.6},{"d":"2011-03-13","s":"VDAX New","v":18.5},{"d":"2011-03-21","s":"VDAX New","v":25.5},{"d":"2011-03-27","s":"VDAX New","v":19.6},{"d":"2011-04-05","s":"VDAX New","v":18},{"d":"2011-04-11","s":"VDAX New","v":16.4},{"d":"2011-04-20","s":"VDAX New","v":18.5},{"d":"2011-04-26","s":"VDAX New","v":18},{"d":"2011-05-05","s":"VDAX New","v":19},{"d":"2011-05-13","s":"VDAX New","v":21.2},{"d":"2011-05-22","s":"VDAX New","v":20.1},{"d":"2011-05-31","s":"VDAX New","v":18},{"d":"2011-06-08","s":"VDAX New","v":20.7},{"d":"2011-06-17","s":"VDAX New","v":21.7},{"d":"2011-06-26","s":"VDAX New","v":19.6},{"d":"2011-07-04","s":"VDAX New","v":18.5},{"d":"2011-07-13","s":"VDAX New","v":21.7},{"d":"2011-07-22","s":"VDAX New","v":22.3},{"d":"2011-07-31","s":"VDAX New","v":27.1},{"d":"2011-08-05","s":"VDAX New","v":35.8},{"d":"2011-08-12","s":"VDAX New","v":32.5},{"d":"2011-08-18","s":"VDAX New","v":40},{"d":"2011-08-23","s":"VDAX New","v":34.7},{"d":"2011-08-30","s":"VDAX New","v":39},{"d":"2011-09-04","s":"VDAX New","v":43.3},{"d":"2011-09-09","s":"VDAX New","v":40},{"d":"2011-09-16","s":"VDAX New","v":44.4},{"d":"2011-09-21","s":"VDAX New","v":41.1},{"d":"2011-09-27","s":"VDAX New","v":47.1},{"d":"2011-09-30","s":"VDAX New","v":43.3},{"d":"2011-10-04","s":"VDAX New","v":37.9},{"d":"2011-10-09","s":"VDAX New","v":36.8},{"d":"2011-10-14","s":"VDAX New","v":32.5},{"d":"2011-10-18","s":"VDAX New","v":35.8},{"d":"2011-10-23","s":"VDAX New","v":27.7},{"d":"2011-10-28","s":"VDAX New","v":33.6},{"d":"2011-11-04","s":"VDAX New","v":36.8},{"d":"2011-11-13","s":"VDAX New","v":35.2},{"d":"2011-11-22","s":"VDAX New","v":36.3},{"d":"2011-12-01","s":"VDAX New","v":33.1},{"d":"2011-12-09","s":"VDAX New","v":30.9},{"d":"2011-12-18","s":"VDAX New","v":27.1},{"d":"2011-12-27","s":"VDAX New","v":26.1},{"d":"2012-01-04","s":"VDAX New","v":24.4},{"d":"2012-01-13","s":"VDAX New","v":22.8},{"d":"2012-01-22","s":"VDAX New","v":21.7},{"d":"2012-01-31","s":"VDAX New","v":22.8},{"d":"2012-02-09","s":"VDAX New","v":20.7},{"d":"2012-02-18","s":"VDAX New","v":24.4},{"d":"2012-02-26","s":"VDAX New","v":20.7},{"d":"2012-03-06","s":"VDAX New","v":19},{"d":"2012-03-15","s":"VDAX New","v":18},{"d":"2012-03-23","s":"VDAX New","v":19.6},{"d":"2012-04-01","s":"VDAX New","v":21.7},{"d":"2012-04-10","s":"VDAX New","v":25},{"d":"2012-04-18","s":"VDAX New","v":25.5},{"d":"2012-04-27","s":"VDAX New","v":24.4},{"d":"2012-05-06","s":"VDAX New","v":27.1},{"d":"2012-05-14","s":"VDAX New","v":26.1},{"d":"2012-05-23","s":"VDAX New","v":29.3},{"d":"2012-05-28","s":"VDAX New","v":32},{"d":"2012-06-05","s":"VDAX New","v":28.2},{"d":"2012-06-10","s":"VDAX New","v":25.5},{"d":"2012-06-19","s":"VDAX New","v":23.9},{"d":"2012-06-28","s":"VDAX New","v":20.7},{"d":"2012-07-06","s":"VDAX New","v":21.7},{"d":"2012-07-15","s":"VDAX New","v":19.6},{"d":"2012-07-24","s":"VDAX New","v":19},{"d":"2012-08-02","s":"VDAX New","v":19.2},{"d":"2012-08-11","s":"VDAX New","v":18.5},{"d":"2012-08-20","s":"VDAX New","v":20.7},{"d":"2012-08-28","s":"VDAX New","v":22.3},{"d":"2012-09-02","s":"VDAX New","v":18.5},{"d":"2012-09-10","s":"VDAX New","v":17.4},{"d":"2012-09-18","s":"VDAX New","v":16.9}
]},
"mark": {"type": "line", "strokeWidth": 2.25},
"encoding": {
"x": {"field": "d", "type": "temporal",
 "scale": {"type": "utc", "domain": [{"year":2004,"month":1,"date":14,"utc":true},{"year":2013,"month":8,"date":14,"utc":true}]},
 "axis": {"title": null, "values": [{"year":2004,"month":1,"date":14,"utc":true},{"year":2005,"month":5,"date":28,"utc":true},{"year":2006,"month":10,"date":10,"utc":true},{"year":2008,"month":2,"date":22,"utc":true},{"year":2009,"month":7,"date":6,"utc":true},{"year":2010,"month":11,"date":18,"utc":true},{"year":2012,"month":4,"date":1,"utc":true},{"year":2013,"month":8,"date":14,"utc":true}],
  "labelExpr": "utcFormat(datum.value, '%d.%m.%Y')", "grid": true, "gridColor": "#d9d9d9", "gridWidth": 1, "ticks": false, "domainColor": "#d9d9d9", "domainWidth": 1,
  "labelFont": "DejaVu Sans", "labelFontSize": 12, "labelColor": "#595959", "labelPadding": 7, "labelFlush": false, "labelOverlap": false}},
"y": {"field": "v", "type": "quantitative", "scale": {"domain": [0, 90]},
 "axis": {"title": null, "values": [0,10,20,30,40,50,60,70,80,90], "grid": true, "gridColor": "#d9d9d9", "gridWidth": 1, "domain": false, "ticks": false,
  "labelFont": "DejaVu Sans", "labelFontSize": 11, "labelColor": "#595959", "labelPadding": 9}},
"color": {"field": "s", "type": "nominal", "scale": {"domain": ["hist. Volatility", "VDAX New"], "range": ["#5b9bd5", "#ed7d31"]},
 "legend": {"title": null, "orient": "none", "legendX": 238, "legendY": -39, "direction": "horizontal", "symbolType": "stroke", "symbolSize": 729, "symbolStrokeWidth": 2.5,
  "labelFont": "Lato", "labelFontSize": 11, "labelColor": "#595959", "labelOffset": 3, "columnPadding": 15}}
},
"config": {"view": {"stroke": null}}
}
